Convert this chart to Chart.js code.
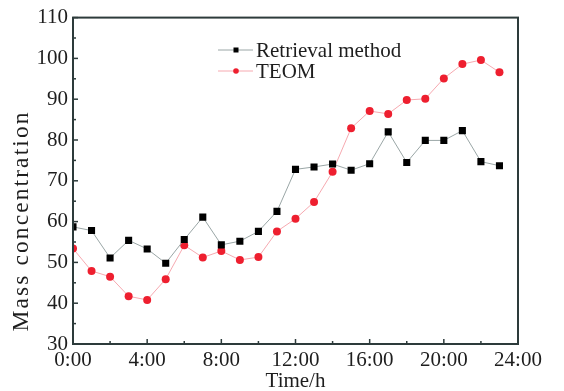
<!DOCTYPE html>
<html>
<head>
<meta charset="utf-8">
<script src="https://cdn.jsdelivr.net/npm/chart.js@4.4.0/dist/chart.umd.min.js"></script>
<style>
  html, body { margin: 0; padding: 0; background: #fff; }
  #wrap { width: 564px; height: 391px; }
</style>
</head>
<body>
<div id="wrap"><canvas id="massChart" width="564" height="391"></canvas></div>
<script>
// hours of the day (x values)
const hours = [0, 1, 2, 3, 4, 5, 6, 7, 8, 9, 10, 11, 12, 13, 14, 15, 16, 17, 18, 19, 20, 21, 22, 23];

// Retrieval method series
const retrievalValues = [58.7, 57.8, 51.1, 55.4, 53.3, 49.8, 55.6, 61.1, 54.3, 55.2, 57.6, 62.5,
                         72.8, 73.4, 74.1, 72.6, 74.2, 82.0, 74.5, 79.9, 79.9, 82.3, 74.7, 73.7];

// TEOM series
const teomValues = [53.4, 47.9, 46.5, 41.7, 40.8, 45.9, 54.2, 51.2, 52.8, 50.6, 51.3, 57.6,
                    60.7, 64.8, 72.2, 82.9, 87.1, 86.4, 89.8, 90.1, 95.1, 98.6, 99.6, 96.6];

const seriesLabels = ['Retrieval method', 'TEOM'];

// axis ranges / tick steps
const xMin = 0, xMax = 24, xStep = 2, xLabelEvery = 4;
const yMin = 30, yMax = 110, yStep = 5, yLabelEvery = 10;

const fontFamily = "'Liberation Serif', 'Times New Roman', serif";
const fontSize = 21;
const axisColor = '#2d3b3b';
const textColor = '#1e1e1e';

const toPoints = vals => vals.map((v, i) => ({ x: hours[i], y: v }));

// frame box + inward ticks
const framePlugin = {
    id: 'frame',
    afterDraw(chart) {
        const { ctx, chartArea: a, scales } = chart;
        ctx.save();
        ctx.strokeStyle = axisColor;
        ctx.lineWidth = 1.5;

        // inward ticks on x
        scales.x.ticks.forEach(t => {
            const px = scales.x.getPixelForValue(t.value);
            const len = (t.value % xLabelEvery === 0) ? 5 : 3;
            ctx.beginPath();
            ctx.moveTo(px, a.bottom);
            ctx.lineTo(px, a.bottom - len);
            ctx.stroke();
        });
        // inward ticks on y
        scales.y.ticks.forEach(t => {
            const py = scales.y.getPixelForValue(t.value);
            const len = (t.value % yLabelEvery === 0) ? 5 : 3;
            ctx.beginPath();
            ctx.moveTo(a.left, py);
            ctx.lineTo(a.left + len, py);
            ctx.stroke();
        });

        ctx.lineWidth = 2;
        ctx.strokeRect(a.left, a.top, a.right - a.left, a.bottom - a.top);

        // y axis title (wide, sits a bit below the middle in the original)
        ctx.fillStyle = textColor;
        ctx.font = '23.5px ' + fontFamily;
        ctx.letterSpacing = '2.1px';
        ctx.textAlign = 'center';
        ctx.textBaseline = 'alphabetic';
        ctx.translate(28, 221);
        ctx.rotate(-Math.PI / 2);
        ctx.fillText('Mass concentration', 0, 0);
        ctx.restore();
    }
};

// small legend inside plot area
const legendPlugin = {
    id: 'innerLegend',
    afterDraw(chart) {
        const { ctx } = chart;
        ctx.save();
        chart.data.datasets.forEach((ds, i) => {
            const y = 50 + i * 21;
            ctx.strokeStyle = ds.borderColor;
            ctx.lineWidth = 1;
            ctx.beginPath();
            ctx.moveTo(218, y);
            ctx.lineTo(253, y);
            ctx.stroke();
            ctx.fillStyle = ds.pointBackgroundColor;
            if (ds.pointStyle === 'rect') {
                ctx.fillRect(233.5, y - 2.5, 5, 5);
            } else {
                ctx.beginPath();
                ctx.arc(236, y, 2.8, 0, Math.PI * 2);
                ctx.fill();
            }
            ctx.fillStyle = textColor;
            ctx.font = fontSize + 'px ' + fontFamily;
            ctx.textAlign = 'left';
            ctx.textBaseline = 'middle';
            ctx.fillText(ds.label, 256, y + 1);
        });
        ctx.restore();
    }
};

new Chart(document.getElementById('massChart'), {
    type: 'line',
    data: {
        datasets: [{
            label: seriesLabels[0],
            data: toPoints(retrievalValues),
            borderColor: '#9aa6a6',
            borderWidth: 1,
            pointStyle: 'rect',
            pointRadius: 5,
            pointBackgroundColor: '#000000',
            pointBorderWidth: 0,
            tension: 0
        }, {
            label: seriesLabels[1],
            data: toPoints(teomValues),
            borderColor: '#f6a9b0',
            borderWidth: 1,
            pointStyle: 'circle',
            pointRadius: 4,
            pointBackgroundColor: '#ee1f2f',
            pointBorderWidth: 0,
            tension: 0
        }]
    },
    options: {
        responsive: false,
        animation: false,
        layout: { padding: { left: 0, top: 17, right: 46, bottom: 0 } },
        plugins: {
            legend: { display: false },
            tooltip: { enabled: false }
        },
        scales: {
            x: {
                type: 'linear',
                min: xMin,
                max: xMax,
                grid: { display: false, drawTicks: false },
                border: { display: false },
                afterFit: s => { s.height = 47; },
                ticks: {
                    stepSize: xStep,
                    autoSkip: false,
                    maxRotation: 0,
                    padding: 4,
                    color: textColor,
                    font: { family: fontFamily, size: fontSize },
                    callback: v => (v % xLabelEvery === 0) ? v + ':00' : ''
                },
                title: {
                    display: true,
                    text: 'Time/h',
                    color: textColor,
                    font: { family: fontFamily, size: fontSize },
                    padding: { top: 0, bottom: -3 }
                }
            },
            y: {
                min: yMin,
                max: yMax,
                grid: { display: false, drawTicks: false },
                border: { display: false },
                afterFit: s => { s.width = 73; },
                ticks: {
                    stepSize: yStep,
                    autoSkip: false,
                    padding: 5,
                    color: textColor,
                    font: { family: fontFamily, size: fontSize },
                    callback: v => (v % yLabelEvery === 0) ? v : ''
                }
            }
        }
    },
    plugins: [framePlugin, legendPlugin]
});
</script>
</body>
</html>
